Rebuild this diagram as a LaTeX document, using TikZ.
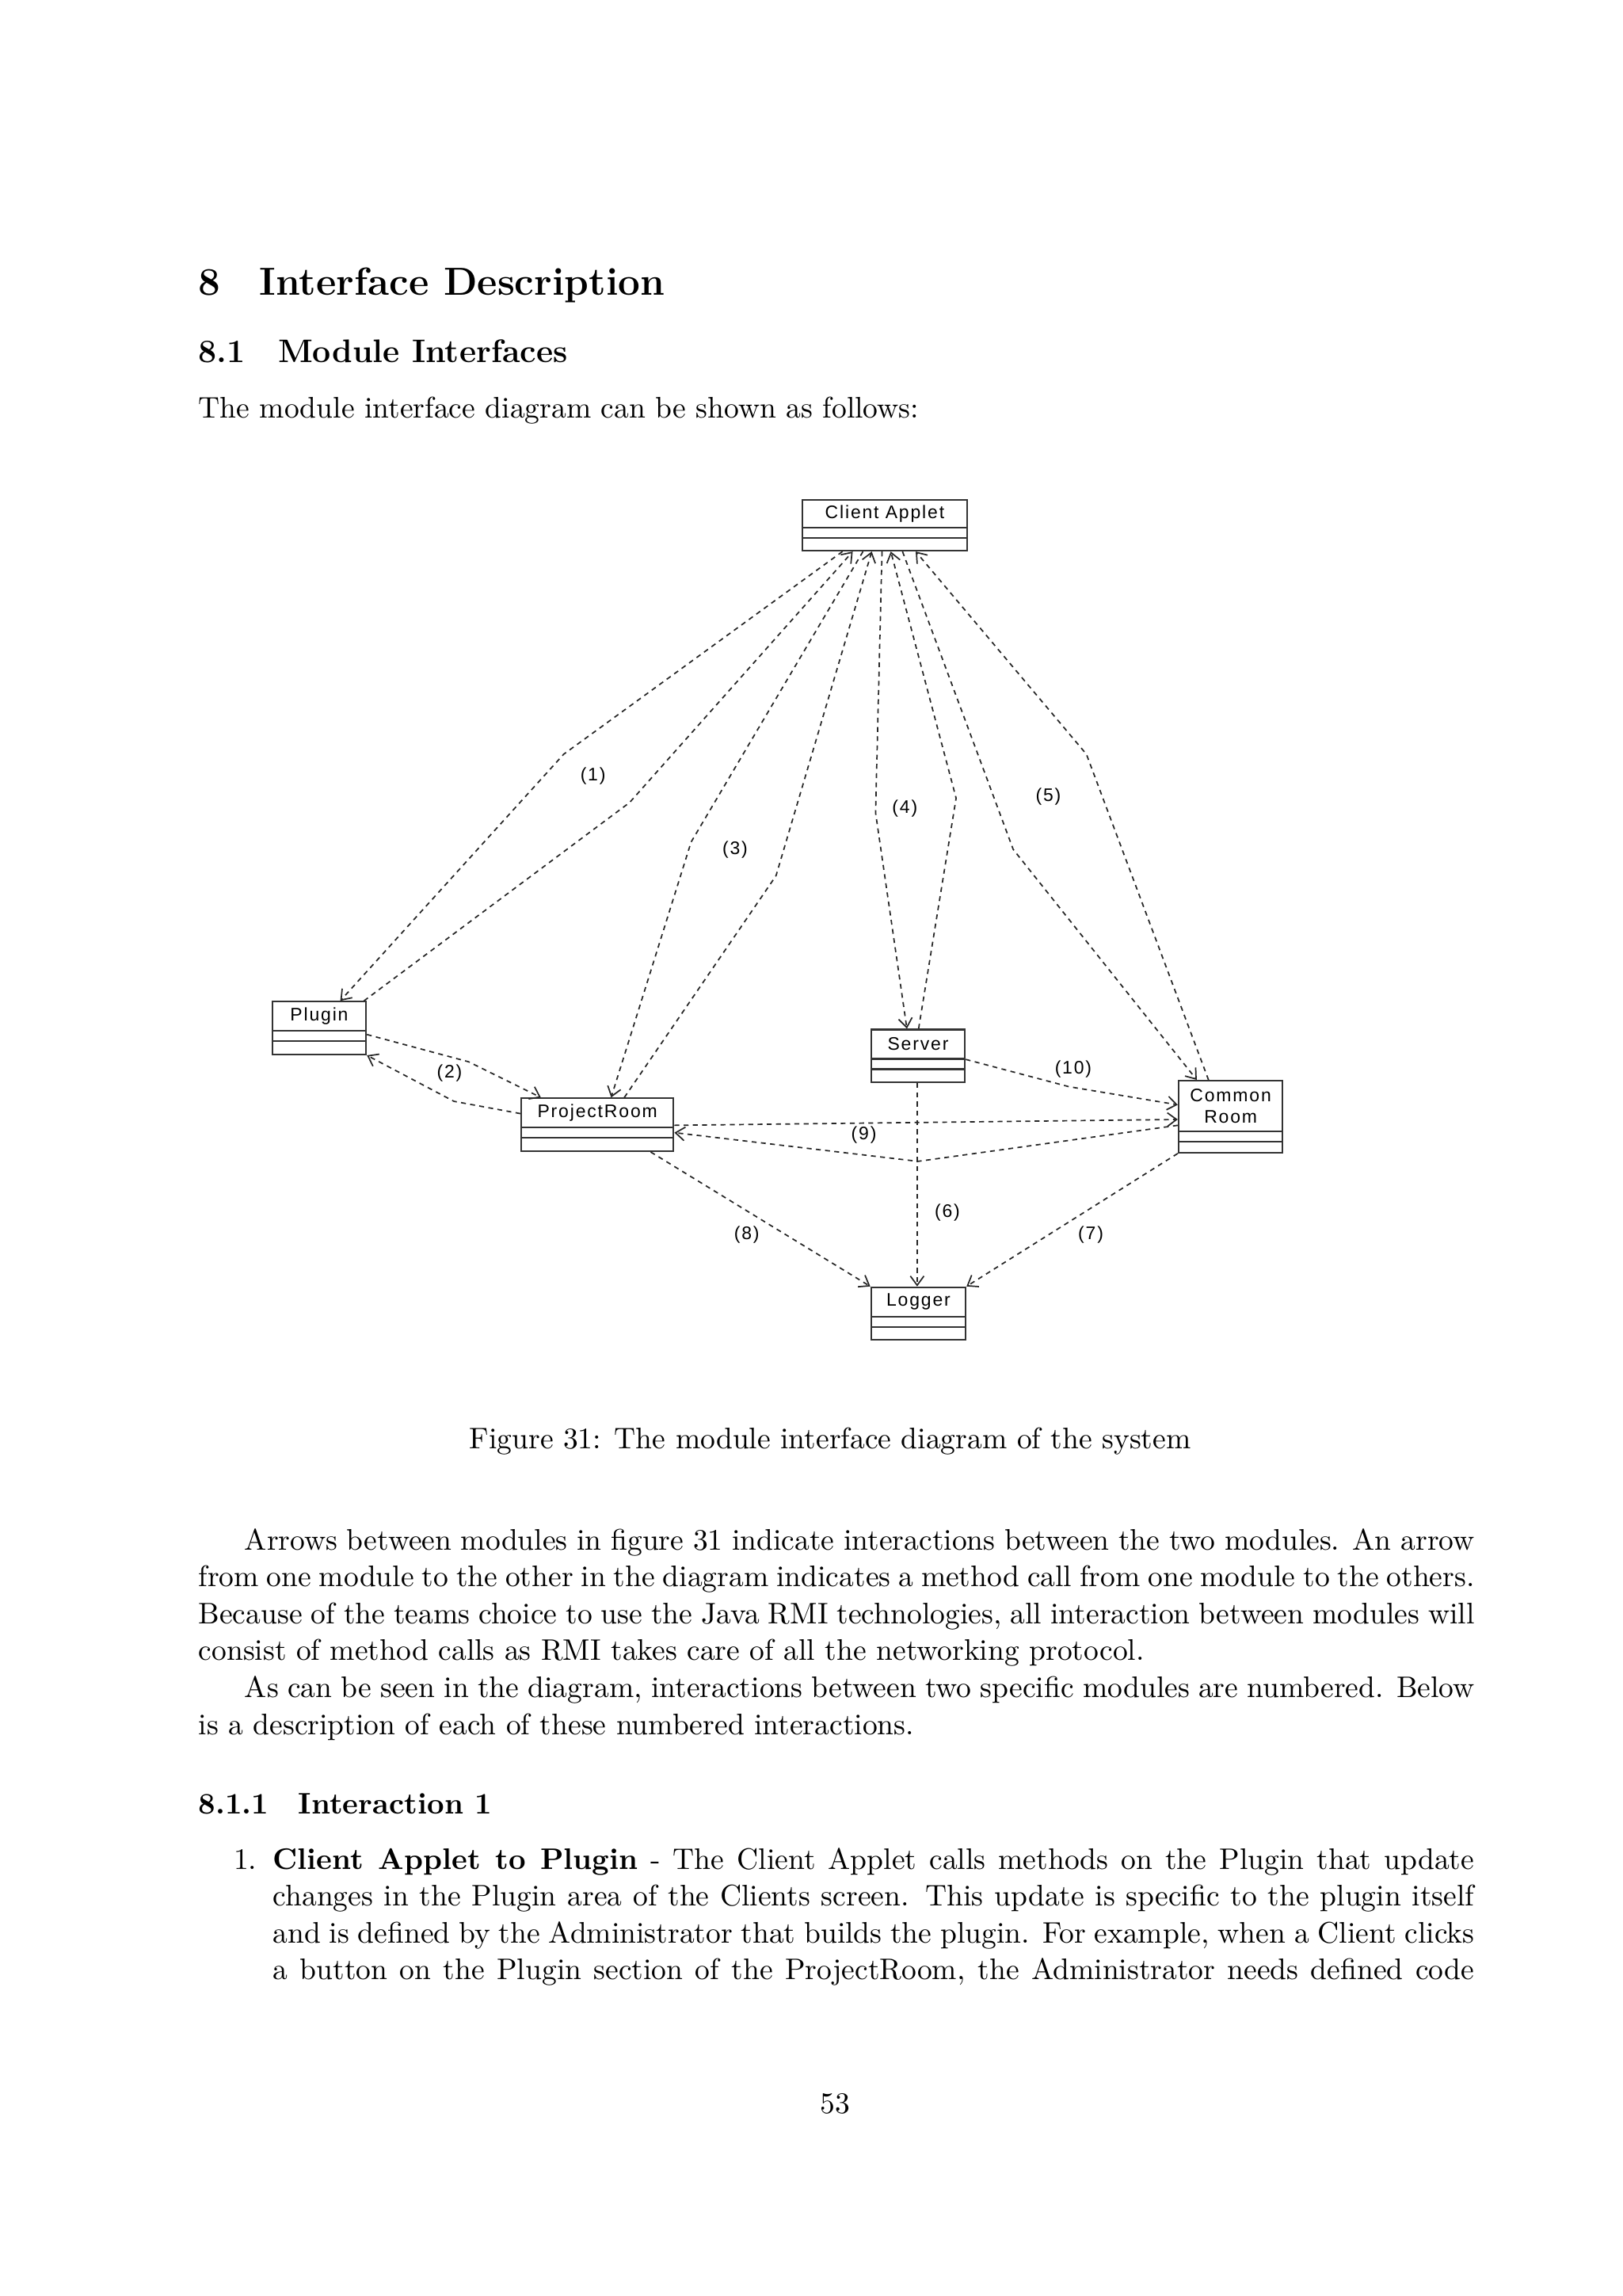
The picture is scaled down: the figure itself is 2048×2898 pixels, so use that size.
\documentclass[tikz,border=0pt]{standalone}
\usepackage{fontspec}
\usetikzlibrary{arrows.meta,calc,fit}
\newfontfamily\umlfont[LetterSpace=8]{Liberation Sans}

\tikzset{
  umlbox/.style={draw=black!80, line width=0.65pt, fill=white, inner sep=0pt, rectangle},
  umlsep/.style={draw=black!80, line width=0.65pt},
  umltext/.style={font=\umlfont\fontsize{6.7}{8.1}\selectfont, inner sep=0pt, align=center},
  dep/.style={draw=black!85, line width=0.5pt, dash pattern=on 1.8pt off 1.6pt,
    -{Straight Barb[length=3.4pt,width=5pt,line width=0.5pt]}},
  bodytext/.style={anchor=base west, inner sep=0pt, font=\fontsize{10.95}{13.6}\selectfont},
}

\newcommand{\umlclass}[8]{%
  \coordinate (#1-nw) at (#2,#3);
  \coordinate (#1-se) at (#4,#5);
  \node[umlbox, fit=(#1-nw)(#1-se)] (#1) {};
  \draw[umlsep] (#2,#6) -- (#4,#6);
  \draw[umlsep] (#2,#7) -- (#4,#7);
  \node[umltext] (#1-label) at ({(#2+#4)/2},{(#3+#6)/2}) {#8};
}

\begin{document}
\begin{tikzpicture}[x=0.1025mm,y=-0.1025mm]
\fill[white] (0,0) rectangle (2048,2898);
\useasboundingbox (0,0) rectangle (2048,2898);

% headings
\node[anchor=base west, inner sep=0pt, font=\fontsize{14.4}{18}\selectfont\bfseries] (sec) at (250,372) {8\quad Interface Description};
\node[anchor=base west, inner sep=0pt, font=\fontsize{12}{14.5}\selectfont\bfseries] (subsec) at (250,457) {8.1\quad Module Interfaces};
\node[bodytext] (intro) at (250,527) {The module interface diagram can be shown as follows:};

% diagram
\begin{scope}[x=0.18946mm,y=-0.18946mm]
  \umlclass{ca}{548}{341.5}{660.5}{376}{360.5}{367.5}{Client Applet}
  \umlclass{pl}{186}{684}{250}{720}{704}{711}{Plugin}
  \umlclass{pr}{356}{750}{460}{786}{770}{777}{ProjectRoom}
  \umlclass{sv}{595}{703}{659}{739}{723}{730}{Server}
  \umlclass{cr}{805}{738}{876}{787}{772.5}{779.5}{Common\\Room}
  \umlclass{lg}{595}{879}{659.5}{915}{899}{906}{Logger}

  % (1)
  \draw[dep] ($(ca.south west)+(28,0)$) -- (385,515) -- ($(pl.north west)+(47,0)$);
  \draw[dep] ($(pl.north east)+(-2,0)$) -- (430,548) -- ($(ca.south west)+(35,0)$);
  % (3)
  \draw[dep] ($(ca.south west)+(42,0)$) -- (472,575) -- ($(pr.north west)+(62,0)$);
  \draw[dep] ($(pr.north west)+(71,0)$) -- (530,598) -- ($(ca.south west)+(48,0)$);
  % (4)
  \draw[dep] ($(ca.south west)+(55,0)$) -- (598,555) -- ($(sv.north west)+(25,0)$);
  \draw[dep] ($(sv.north west)+(33,0)$) -- (653,545) -- ($(ca.south west)+(61,0)$);
  % (5)
  \draw[dep] ($(ca.south west)+(69,0)$) -- (692,580) -- ($(cr.north west)+(13,0)$);
  \draw[dep] ($(cr.north west)+(21,0)$) -- (742,515) -- ($(ca.south west)+(78,0)$);
  % (2)
  \draw[dep] ($(pl.north east)+(0,23)$) -- (320,725) -- ($(pr.north west)+(14,0)$);
  \draw[dep] ($(pr.north west)+(0,11)$) -- (310,752) -- (pl.south east);
  % (9)
  \draw[dep] ($(pr.north east)+(0,19)$) -- ($(cr.north west)+(0,27)$);
  \draw[dep] ($(cr.north west)+(0,31)$) -- (627,793) -- ($(pr.north east)+(0,24)$);
  % (10)
  \draw[dep] ($(sv.north east)+(0,21)$) -- (730,742) -- ($(cr.north west)+(0,17)$);
  % (6)
  \draw[dep] ($(sv.south west)+(32,0)$) -- ($(lg.north west)+(32,0)$);
  % (7)
  \draw[dep] (cr.south west) -- (lg.north east);
  % (8)
  \draw[dep] ($(pr.south west)+(89,0)$) -- (lg.north west);

  % labels
  \node[umltext] (l1) at (405,530) {(1)};
  \node[umltext] (l2) at (307,733) {(2)};
  \node[umltext] (l3) at (502,580) {(3)};
  \node[umltext] (l4) at (618,552) {(4)};
  \node[umltext] (l5) at (716,544) {(5)};
  \node[umltext] (l6) at (647,828) {(6)};
  \node[umltext] (l7) at (745,843) {(7)};
  \node[umltext] (l8) at (510,843) {(8)};
  \node[umltext] (l9) at (590,775) {(9)};
  \node[umltext] (l10) at (733,730) {(10)};
\end{scope}

% caption
\node[bodytext] (caption) at (592,1828) {Figure 31: The module interface diagram of the system};

% paragraph
\node[bodytext] (para) at (250,1956) {\begin{minipage}[t]{469.75pt}\fontsize{10.95}{13.6}\selectfont
\noindent\hspace*{17pt}Arrows between modules in figure 31 indicate interactions between the two modules. An arrow\linebreak
from one module to the other in the diagram indicates a method call from one module to the others.\linebreak
Because of the teams choice to use the Java RMI technologies, all interaction between modules will\linebreak
consist of method calls as RMI takes care of all the networking protocol.\par
\noindent\hspace*{17pt}As can be seen in the diagram, interactions between two specific modules are numbered. Below\linebreak
is a description of each of these numbered interactions.\par
\end{minipage}};

\node[anchor=base west, inner sep=0pt, font=\fontsize{10.95}{13.6}\selectfont\bfseries] (subsubsec) at (250,2289) {8.1.1\quad Interaction 1};

\node[anchor=base east, inner sep=0pt, font=\fontsize{10.95}{13.6}\selectfont] (item1) at (325,2359) {1.};
\node[bodytext] (itemtext) at (344,2359) {\begin{minipage}[t]{442.25pt}\fontsize{10.95}{13.6}\selectfont
\noindent\parfillskip=0pt \textbf{Client Applet to Plugin} - The Client Applet calls methods on the Plugin that update\linebreak
changes in the Plugin area of the Clients screen. This update is specific to the plugin itself\linebreak
and is defined by the Administrator that builds the plugin. For example, when a Client clicks\linebreak
a button on the Plugin section of the ProjectRoom, the Administrator needs defined code\par
\end{minipage}};

\node[anchor=base, inner sep=0pt, font=\fontsize{10.95}{13.6}\selectfont] (pagenum) at (1054,2667) {53};
\end{tikzpicture}
\end{document}
